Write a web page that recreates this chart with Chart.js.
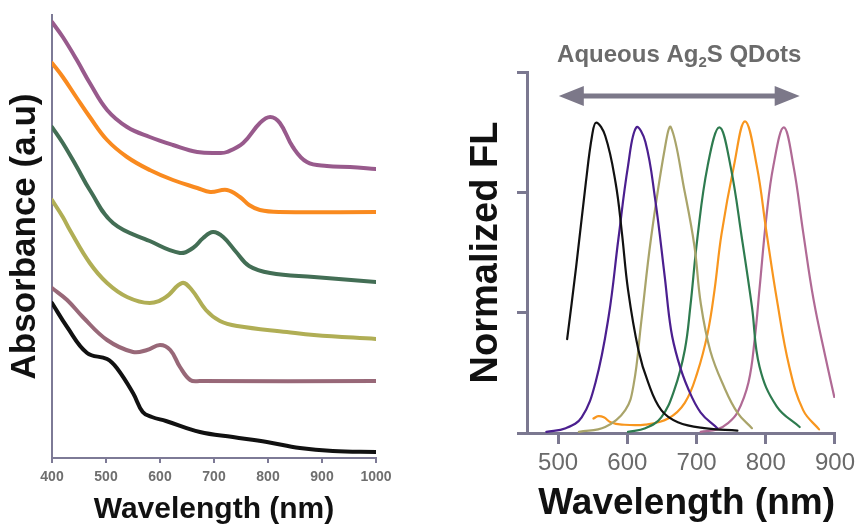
<!DOCTYPE html>
<html><head><meta charset="utf-8">
<script src="https://cdn.jsdelivr.net/npm/chart.js@4.4.0/dist/chart.umd.min.js"></script>
<style>
html,body{margin:0;padding:0;background:#fff;width:860px;height:525px;overflow:hidden}
#c1{position:absolute;left:0;top:0}
#c2{position:absolute;left:420px;top:0}
</style></head><body>
<canvas id="c1" width="420" height="525"></canvas>
<canvas id="c2" width="440" height="525"></canvas>
<script>
// ---------- Left panel: absorbance (offset spectra, a.u.) ----------
const absTicks = [400, 500, 600, 700, 800, 900, 1000];
const absPurpleX = [400,420,446,470,502,539,581,624,669,711,724,754,785,804,822,846,872,909,952,1000];
const absPurpleY = [4.36,4.21,3.98,3.75,3.48,3.31,3.21,3.13,3.06,3.05,3.06,3.15,3.35,3.41,3.35,3.11,2.96,2.92,2.91,2.89];
const absOrangeX = [400,420,446,470,502,539,581,624,669,693,724,748,765,785,820,1000];
const absOrangeY = [3.95,3.81,3.60,3.41,3.18,3.01,2.88,2.78,2.70,2.66,2.68,2.61,2.53,2.48,2.46,2.46];
const absGreenX = [400,420,446,470,513,581,637,661,680,698,717,741,765,804,885,1000];
const absGreenY = [3.31,3.15,2.91,2.68,2.35,2.17,2.05,2.10,2.20,2.26,2.21,2.06,1.92,1.85,1.81,1.76];
const absOliveX = [400,420,433,470,502,539,581,611,641,659,685,711,743,835,885,1000];
const absOliveY = [2.58,2.41,2.28,1.95,1.75,1.61,1.55,1.61,1.75,1.68,1.48,1.37,1.32,1.26,1.23,1.19];
const absMauveX = [400,428,457,502,550,576,600,619,637,656,674,1000];
const absMauveY = [1.70,1.58,1.41,1.18,1.06,1.08,1.13,1.08,0.91,0.78,0.77,0.77];
const absBlackX = [400,428,465,502,520,550,568,585,611,674,735,798,859,920,1000];
const absBlackY = [1.55,1.31,1.05,0.99,0.90,0.65,0.46,0.41,0.37,0.26,0.21,0.16,0.10,0.07,0.06];

// ---------- Right panel: normalized fluorescence ----------
const flTicks = [500, 600, 700, 800, 900];
const flBlackX = [513,526,540,549,555,568,583,592,601,616,630,649,673,711,759];
const flBlackY = [0.78,1.38,2.08,2.47,2.58,2.47,2.08,1.67,1.19,0.69,0.42,0.19,0.09,0.04,0.02];
const flPurpleX = [483,511,534,554,573,587,601,613,626,640,654,663,673,687,706,730];
const flPurpleY = [0.01,0.04,0.13,0.42,0.97,1.61,2.22,2.54,2.42,1.95,1.30,0.86,0.61,0.38,0.17,0.04];
const flOliveX = [530,568,597,609,620,634,654,663,683,697,706,720,740,759,780];
const flOliveY = [0.01,0.05,0.19,0.40,0.92,1.61,2.36,2.54,2.00,1.55,1.08,0.68,0.38,0.17,0.04];
const flGreenX = [601,626,649,668,683,691,701,716,733,749,766,780,791,816,849];
const flGreenY = [0.01,0.04,0.13,0.36,0.69,1.05,1.61,2.22,2.54,2.22,1.60,1.05,0.55,0.22,0.05];
const flOrangeX = [551,558,566,576,592,626,659,683,701,716,726,736,754,770,787,801,816,834,854,877];
const flOrangeY = [0.12,0.14,0.13,0.09,0.07,0.07,0.12,0.25,0.50,0.83,1.19,1.65,2.22,2.59,2.22,1.67,1.11,0.55,0.19,0.03];
const flMauveX = [706,730,745,759,775,784,791,801,811,826,840,854,869,887,899];
const flMauveY = [0.01,0.03,0.08,0.17,0.42,0.78,1.20,1.80,2.22,2.54,2.22,1.67,1.11,0.61,0.30];
const arrowFrom = 501, arrowTo = 849, arrowLevel = 2.8;

const pts = (xs, ys) => xs.map((x, i) => ({x, y: ys[i]}));
const FONT = "'Liberation Sans', Arial, sans-serif";
const ds = (xs, ys, color, w) => ({data: pts(xs, ys), borderColor: color, borderWidth: w,
  pointRadius: 0, fill: false, tension: 0.4, borderCapStyle: 'round', borderJoinStyle: 'round'});

const axisL = '#7d7a96';
new Chart(document.getElementById('c1'), {
  type: 'line',
  data: {datasets: [
    ds(absPurpleX, absPurpleY, '#985a8c', 4),
    ds(absOrangeX, absOrangeY, '#f98a1f', 4),
    ds(absGreenX, absGreenY, '#436e55', 4),
    ds(absOliveX, absOliveY, '#b0ae55', 4),
    ds(absMauveX, absMauveY, '#986878', 4),
    ds(absBlackX, absBlackY, '#111111', 4)
  ]},
  options: {
    responsive: false, animation: false, devicePixelRatio: 1,
    layout: {padding: {left: 0, right: 44, top: 15, bottom: 0}},
    plugins: {legend: {display: false}, tooltip: {enabled: false}},
    scales: {
      x: {type: 'linear', min: absTicks[0], max: absTicks[absTicks.length - 1],
        afterBuildTicks: s => { s.ticks = absTicks.map(v => ({value: v})); },
        ticks: {font: {family: FONT, size: 14, weight: 'bold'}, color: '#6e6e6e', padding: 6, maxRotation: 0, autoSkip: false,
          callback: v => String(v)},
        grid: {display: true, drawOnChartArea: false, drawTicks: true, tickLength: 5, color: axisL, lineWidth: 2},
        border: {display: true, color: axisL, width: 2},
        title: {display: true, text: 'Wavelength (nm)', color: '#111',
          font: {family: FONT, size: 30, weight: 'bold', lineHeight: 1}, padding: {top: 0, bottom: 0}},
        afterFit: s => { s.height = 67; }
      },
      y: {type: 'linear', min: 0, max: 4.43,
        ticks: {display: false},
        grid: {display: true, drawOnChartArea: false, drawTicks: false, color: axisL},
        border: {display: true, color: axisL, width: 2},
        title: {display: true, text: 'Absorbance (a.u)', color: '#111',
          font: {family: FONT, size: 35, weight: 'bold', lineHeight: 1}, padding: {top: 8, bottom: 0}},
        afterFit: s => { s.width = 52; }
      }
    }
  }
});

const axisR = '#7b7890';
const decor = {
  id: 'decor',
  afterDraw(chart) {
    const {ctx, scales: {x, y}} = chart;
    const x0 = x.getPixelForValue(arrowFrom), x1 = x.getPixelForValue(arrowTo);
    const yy = y.getPixelForValue(arrowLevel);
    ctx.save();
    ctx.strokeStyle = '#7c7889'; ctx.fillStyle = '#7c7889'; ctx.lineWidth = 5;
    ctx.beginPath(); ctx.moveTo(x0 + 20, yy); ctx.lineTo(x1 - 20, yy); ctx.stroke();
    ctx.beginPath(); ctx.moveTo(x0, yy); ctx.lineTo(x0 + 25, yy - 10); ctx.lineTo(x0 + 25, yy + 10); ctx.closePath(); ctx.fill();
    ctx.beginPath(); ctx.moveTo(x1, yy); ctx.lineTo(x1 - 25, yy - 10); ctx.lineTo(x1 - 25, yy + 10); ctx.closePath(); ctx.fill();
    // title with subscript
    const big = 'bold 24px ' + FONT, small = 'bold 15px ' + FONT;
    const p1 = 'Aqueous Ag', p2 = '2', p3 = 'S QDots';
    ctx.font = big; const w1 = ctx.measureText(p1).width, w3 = ctx.measureText(p3).width;
    ctx.font = small; const w2 = ctx.measureText(p2).width;
    const cx = (x0 + x1) / 2, base = 62;
    let sx = cx - (w1 + w2 + w3) / 2;
    ctx.fillStyle = '#6b6b6b'; ctx.textBaseline = 'alphabetic'; ctx.textAlign = 'left';
    ctx.font = big; ctx.fillText(p1, sx, base); sx += w1;
    ctx.font = small; ctx.fillText(p2, sx, base + 5); sx += w2;
    ctx.font = big; ctx.fillText(p3, sx, base);
    ctx.restore();
  }
};

new Chart(document.getElementById('c2'), {
  type: 'line',
  data: {datasets: [
    ds(flBlackX, flBlackY, '#111111', 2.2),
    ds(flPurpleX, flPurpleY, '#4b1f8f', 2.2),
    ds(flOliveX, flOliveY, '#a9a46a', 2.2),
    ds(flGreenX, flGreenY, '#2e7b4f', 2.2),
    ds(flOrangeX, flOrangeY, '#f8961e', 2.2),
    ds(flMauveX, flMauveY, '#b06a95', 2.2)
  ]},
  options: {
    responsive: false, animation: false, devicePixelRatio: 1,
    layout: {padding: {left: 0, right: 22, top: 72, bottom: 0}},
    plugins: {legend: {display: false}, tooltip: {enabled: false}},
    scales: {
      x: {type: 'linear', min: 455, max: 900,
        afterBuildTicks: s => { s.ticks = flTicks.map(v => ({value: v})); },
        ticks: {font: {family: FONT, size: 24}, color: '#6a6a6a', padding: 5, maxRotation: 0, autoSkip: false,
          callback: v => String(v)},
        grid: {display: true, drawOnChartArea: false, drawTicks: true, tickLength: 11, color: axisR, lineWidth: 3},
        border: {display: true, color: axisR, width: 3},
        title: {display: true, text: 'Wavelength (nm)', color: '#111', align: 'end',
          font: {family: FONT, size: 37, weight: 'bold', lineHeight: 1}, padding: {top: 0, bottom: 3}},
        afterFit: s => { s.height = 92; }
      },
      y: {type: 'linear', min: 0, max: 3,
        ticks: {display: false, stepSize: 1},
        grid: {display: true, drawOnChartArea: false, drawTicks: true, tickLength: 10, color: axisR, lineWidth: 3},
        border: {display: true, color: axisR, width: 3},
        title: {display: true, text: 'Normalized FL', color: '#111',
          font: {family: FONT, size: 38, weight: 'bold', lineHeight: 1}, padding: {top: 48, bottom: 0}},
        afterFit: s => { s.width = 107; }
      }
    }
  },
  plugins: [decor]
});
</script>
</body></html>
